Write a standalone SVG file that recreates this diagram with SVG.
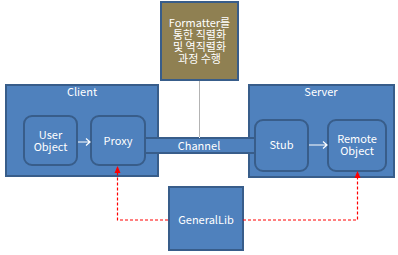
<svg xmlns="http://www.w3.org/2000/svg" width="398" height="255" viewBox="0 0 398 255">
<style>
.box{fill:#4F81BD;stroke:#385D8A;stroke-width:2}
.t{font-family:"Noto Sans CJK KR","Liberation Sans",sans-serif;font-size:11px;fill:#ffffff;text-anchor:middle}
.dep{fill:none;stroke:#FF0000;stroke-width:1.2;stroke-dasharray:3,2}
.wa{fill:none;stroke:#ffffff;stroke-width:1.2}
</style>
<defs>
<marker id="ra" markerWidth="8" markerHeight="8" refX="4" refY="7" orient="auto" markerUnits="userSpaceOnUse" viewBox="0 0 8 8">
<path d="M0,8 L4,0 L8,8 Z" fill="#FF0000" transform="rotate(90 4 4)"/>
</marker>
</defs>
<g id="formatter">
<rect x="161" y="2" width="77" height="78" fill="#8F8052" stroke="#385D8A" stroke-width="2"/>
<text class="t" x="199.5" y="27">Formatter를</text>
<text class="t" x="199.5" y="39">통한 직렬화</text>
<text class="t" x="199.5" y="51">및 역직렬화</text>
<text class="t" x="199.5" y="63">과정 수행</text>
</g>
<g id="client">
<rect class="box" x="6" y="85" width="152" height="91"/>
<text class="t" x="82" y="96">Client</text>
</g>
<g id="server">
<rect class="box" x="249" y="85" width="145" height="92"/>
<text class="t" x="321" y="96">Server</text>
</g>
<g id="channel">
<rect class="box" x="145" y="138" width="110" height="15"/>
<text class="t" x="199" y="149.5">Channel</text>
</g>
<g id="userobject">
<rect class="box" x="24" y="116" width="53" height="49" rx="8"/>
<text class="t" x="50.5" y="139">User</text>
<text class="t" x="50.5" y="151">Object</text>
</g>
<g id="proxy">
<rect class="box" x="91" y="116" width="54" height="49" rx="8"/>
<text class="t" x="118" y="145">Proxy</text>
</g>
<g id="stub">
<rect class="box" x="255" y="120" width="53" height="51" rx="8"/>
<text class="t" x="281.5" y="149">Stub</text>
</g>
<g id="remoteobject">
<rect class="box" x="328" y="120" width="58" height="51" rx="8"/>
<text class="t" x="357" y="143">Remote</text>
<text class="t" x="357" y="155">Object</text>
</g>
<g id="generallib">
<rect class="box" x="169" y="187" width="74" height="63"/>
<text class="t" x="206" y="224">GeneralLib</text>
</g>
<g id="connectors">
<line x1="199.5" y1="81" x2="199.5" y2="138" stroke="#ffffff" stroke-width="1"/>
<line x1="199.5" y1="81" x2="199.5" y2="137" stroke="#A0A0A0" stroke-width="0.8"/>
<path class="wa" d="M78,142 H90 M86,138.5 L90,142 L86,145.5"/>
<path class="wa" d="M309,145 H327 M323,141.5 L327,145 L323,148.5"/>
<path class="dep" d="M168,220 H117.5 V172"/>
<path d="M114.5,173 L117.5,166 L120.5,173 Z" fill="#FF0000"/>
<path class="dep" d="M243,220 H357.5 V177"/>
<path d="M354.5,178 L357.5,171 L360.5,178 Z" fill="#FF0000"/>
</g>
</svg>
